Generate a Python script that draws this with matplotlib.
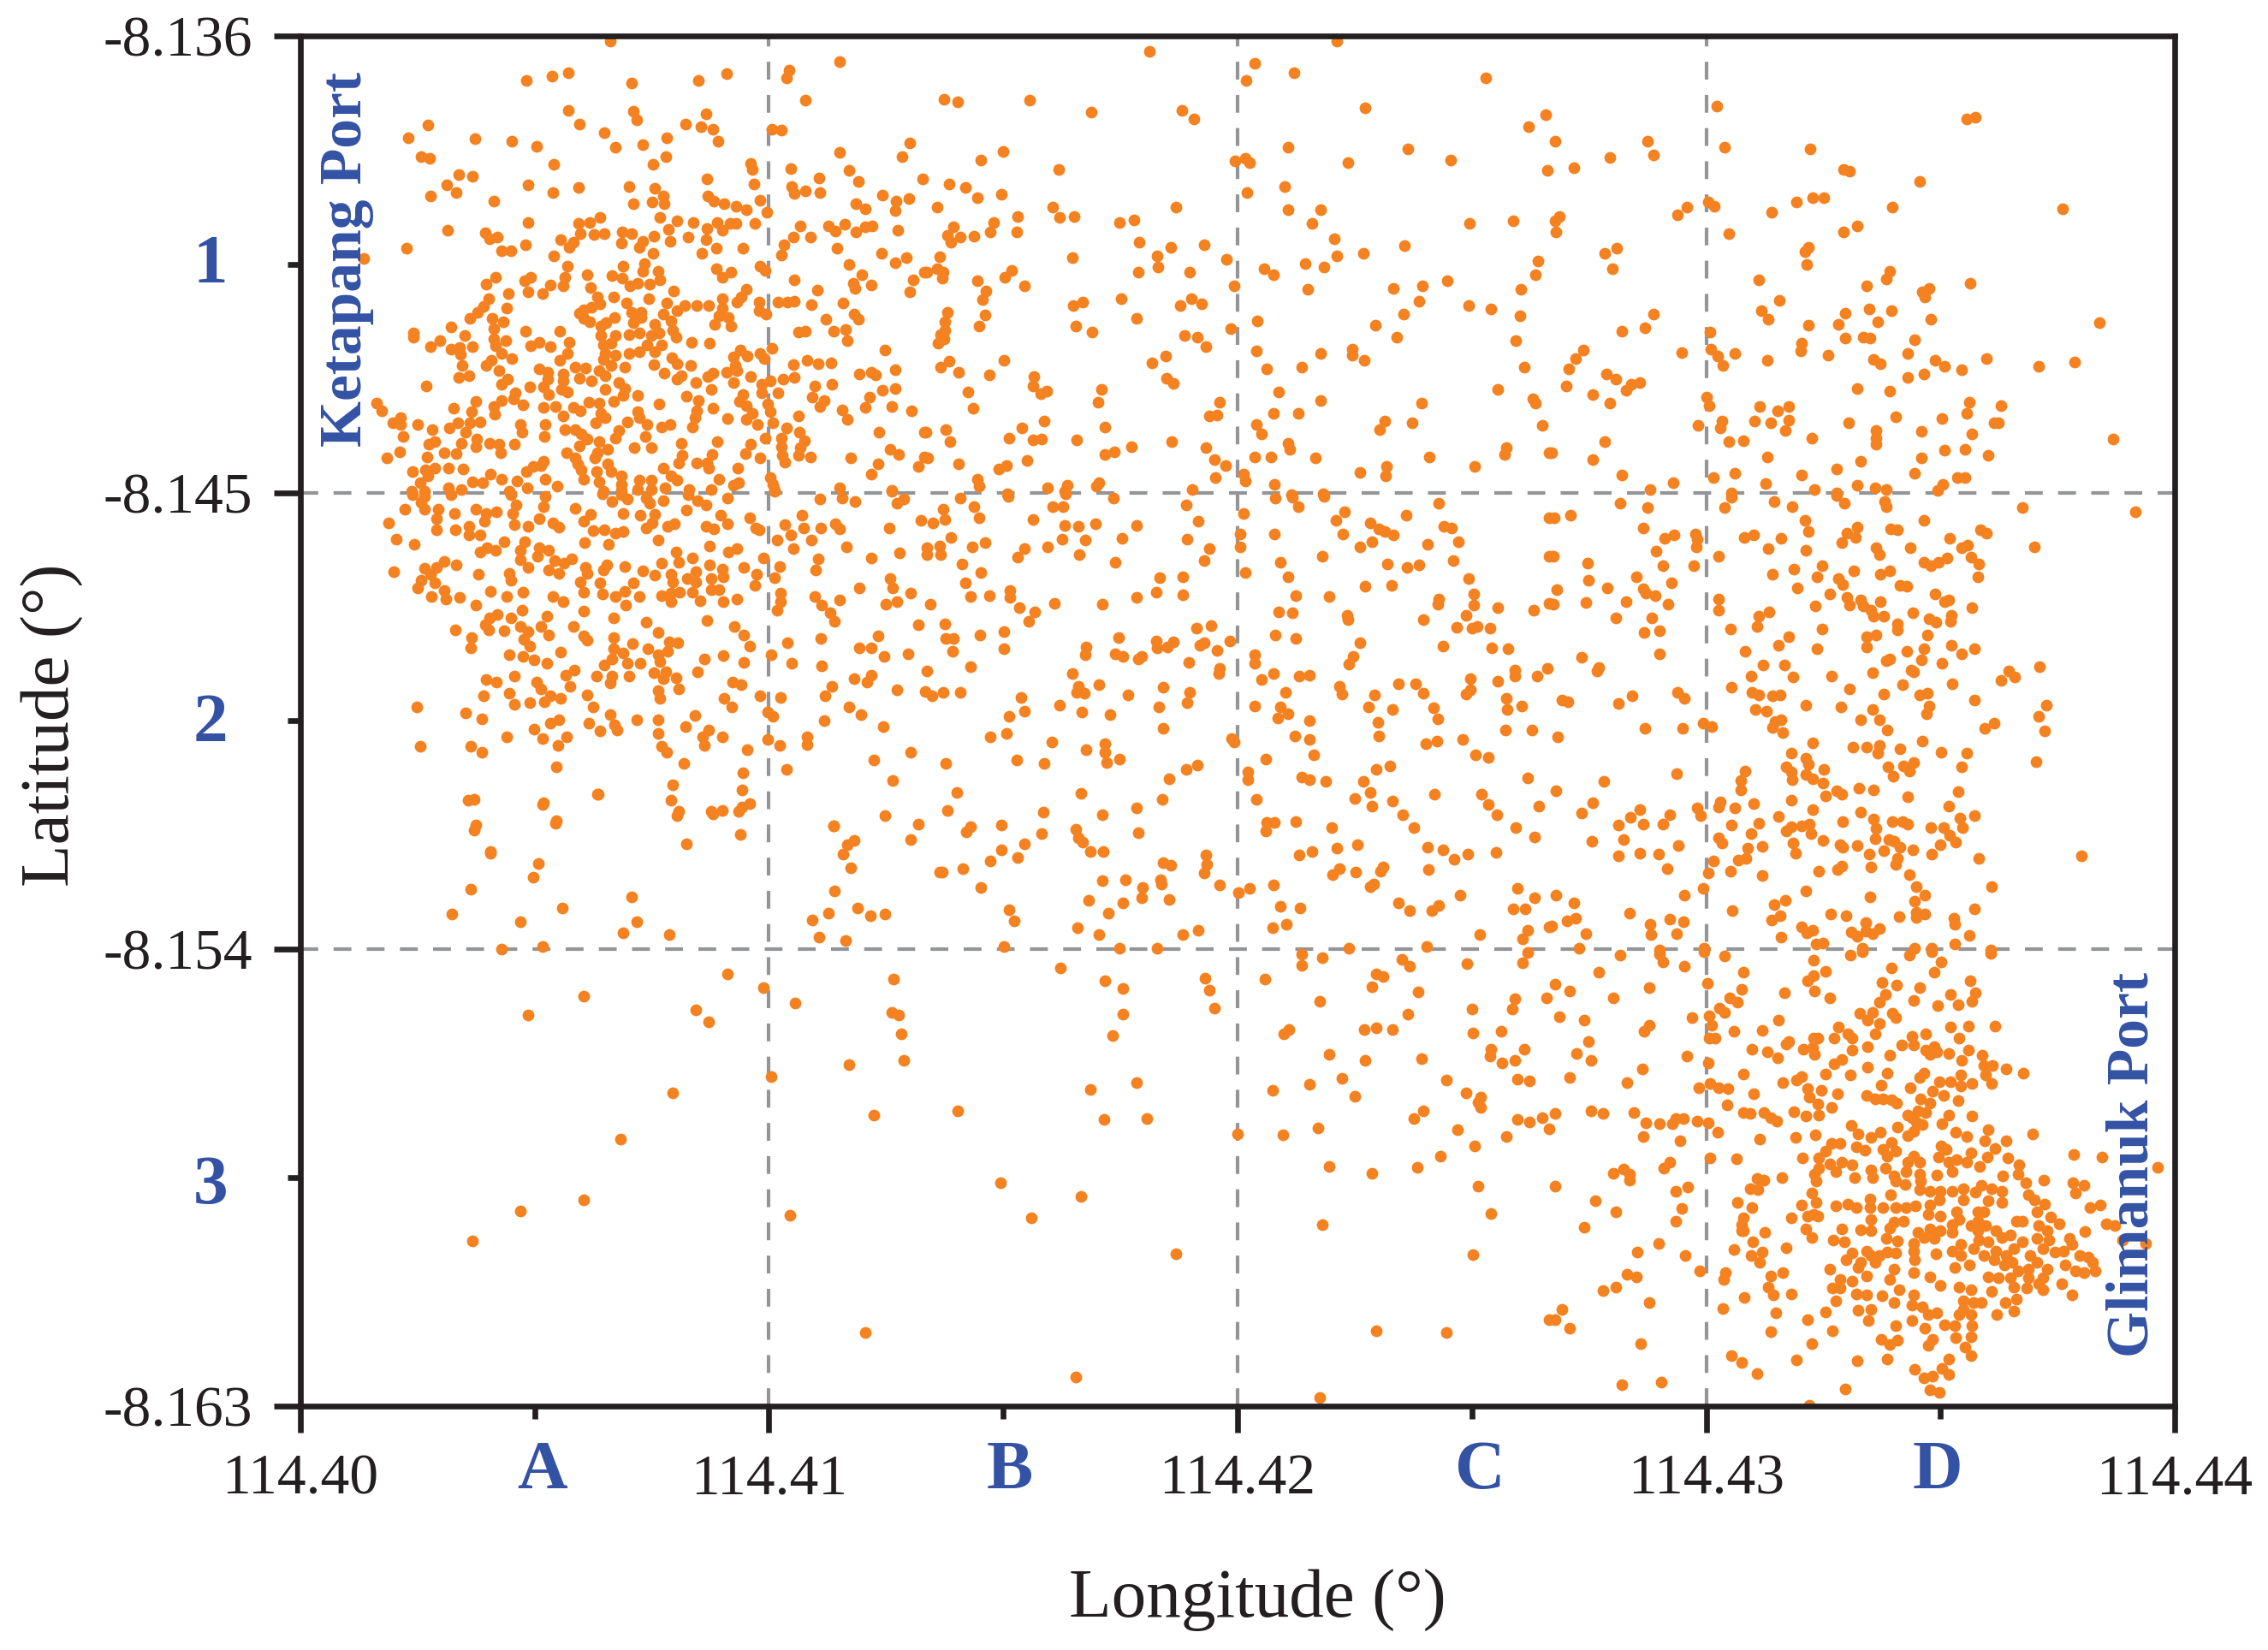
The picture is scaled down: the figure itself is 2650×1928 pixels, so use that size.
import numpy as np
import matplotlib
matplotlib.use("Agg")
import matplotlib.pyplot as plt

# positions are kept as thousandths of a degree: lon = 114.40 + x/1000, lat = -8.136 - y/1000
north_west = [6.62,0.10,11.50,0.50,4.82,0.87,5.37,0.79,5.71,0.73,7.07,0.92,8.50,0.87,9.10,0.75,10.43,0.68,10.37,0.82,
10.77,1.27,5.72,1.46,7.10,1.49,7.17,1.65,8.66,1.53,5.95,1.73,2.73,1.75,8.22,1.73,8.54,1.78,8.80,1.83,
6.49,1.90,10.06,1.84,10.26,1.85,2.31,2.00,3.72,2.03,4.52,2.07,5.04,2.17,7.82,2.01,8.91,2.08,7.30,2.15,
6.73,2.20,13.01,2.10,11.51,2.30,12.84,2.37,2.57,2.37,2.76,2.42,7.80,2.37,7.53,2.53,5.41,2.53,9.60,2.51,
9.65,2.63,10.46,2.61,11.70,2.64,3.37,2.74,3.68,2.76,8.68,2.81,11.07,2.80,11.90,2.87,3.12,2.94,4.85,2.93,
9.68,2.91,7.02,2.97,7.57,3.01,10.48,2.96,5.94,2.99,13.28,2.82,3.33,3.08,5.39,3.09,10.53,3.10,10.77,3.05,
11.09,3.08,8.69,3.15,2.77,3.15,7.74,3.16,4.12,3.26,9.80,3.24,12.42,3.14,12.99,3.21,12.72,3.25,7.10,3.30,
7.50,3.28,7.77,3.31,8.83,3.26,9.05,3.31,9.30,3.35,9.51,3.43,9.96,3.47,11.85,3.30,12.06,3.40,12.69,3.44,
6.40,3.58,7.68,3.57,6.17,3.68,5.94,3.70,4.86,3.67,8.04,3.64,8.38,3.67,9.69,3.69,8.89,3.67,9.17,3.69,
9.30,3.70,8.67,3.79,9.00,3.82,10.66,3.75,11.27,3.75,11.62,3.71,11.41,3.85,11.85,3.86,12.06,3.76,12.20,3.74,
12.75,3.82,3.14,3.82,3.95,3.88,4.04,3.99,4.20,3.97,5.98,3.90,6.26,3.92,6.48,3.90,6.87,3.86,7.06,3.90,
7.55,3.94,7.86,3.81,8.27,3.96,8.66,4.01,10.52,3.96,10.88,3.96,5.56,4.01,5.83,4.06,5.73,4.17,6.85,4.08,
7.30,4.05,7.23,4.17,7.89,4.04,10.32,4.12,11.45,4.19,4.81,4.11,2.26,4.18,8.87,4.19,9.45,4.18,4.29,4.24,
4.50,4.24,7.53,4.28,8.56,4.29,10.27,4.31,12.41,4.29,5.41,4.33,1.36,4.39,12.93,4.37,12.70,4.47,5.69,4.54,
6.89,4.54,7.35,4.49,7.30,4.64,11.70,4.51,9.80,4.54,9.91,4.62,8.87,4.58,9.18,4.65,9.01,4.76,7.64,4.64,
13.32,4.66,4.17,4.76,3.96,4.89,4.91,4.76,4.78,4.83,5.34,4.90,5.65,4.76,5.61,4.93,6.11,4.71,6.65,4.72,
6.87,4.78,7.19,4.87,7.04,4.93,7.46,4.89,7.68,4.80,6.19,4.95,10.54,4.81,11.99,4.71,11.80,4.88,12.19,4.90,
13.08,4.81,11.84,4.97,11.03,5.01,7.96,5.02,9.52,4.99,4.85,5.05,5.16,5.07,4.43,5.07,13.01,5.04,4.02,5.17,
6.69,5.15,6.34,5.14,7.44,5.17,9.01,5.17,9.40,5.14,9.31,5.24,6.39,5.28,6.95,5.27,7.82,5.27,8.21,5.31,
8.46,5.31,8.72,5.31,9.79,5.24,10.20,5.24,10.39,5.24,10.54,5.23,11.58,5.27,10.90,5.30,3.91,5.33,4.41,5.36,
6.21,5.34,6.04,5.40,9.01,5.37,3.78,5.45,5.95,5.47,7.06,5.45,7.27,5.45,7.74,5.48,8.04,5.42,9.79,5.42,
9.93,5.48,11.82,5.48,3.62,5.56,4.10,5.57,6.05,5.57,6.70,5.54,7.27,5.54,8.93,5.51,9.14,5.54,11.90,5.59,
11.22,5.59,4.32,5.64,6.17,5.63,6.52,5.65,7.10,5.65,7.91,5.61,8.84,5.68,9.18,5.71,3.21,5.74,7.57,5.69,
6.42,5.71,2.42,5.86,2.42,5.94,4.13,5.77,4.81,5.81,5.54,5.81,6.42,5.91,6.72,5.91,7.01,5.88,7.23,5.86,
7.48,5.91,7.65,5.86,7.95,5.80,11.38,5.81,11.63,5.79,10.63,5.84,10.77,5.81,8.01,5.94,3.50,5.91,2.98,6.01,
4.12,5.97,4.39,6.01,5.10,6.03,8.34,6.04,8.73,6.06,11.68,6.01,5.73,6.04,2.78,6.13,3.21,6.17,3.40,6.14,
3.67,6.13,4.17,6.11,4.92,6.10,5.34,6.13,6.46,6.08,6.63,6.06,7.40,6.08,7.70,6.08,10.06,6.15,12.47,6.19,
3.41,6.27,4.29,6.26,5.70,6.26,6.51,6.26,6.72,6.29,7.01,6.25,7.23,6.23,7.57,6.23,9.38,6.19,9.54,6.30,
9.25,6.33,9.81,6.26,9.90,6.36,7.93,6.34,4.51,6.35,4.08,6.39,5.54,6.39,6.46,6.37,10.82,6.40,8.04,6.46,
11.05,6.46,11.33,6.45,3.97,6.50,3.46,6.50,6.63,6.49,6.92,6.53,7.55,6.47,8.32,6.50,10.52,6.47,9.27,6.49,
5.10,6.56,5.87,6.52,6.08,6.54,4.23,6.60,5.27,6.63,5.61,6.66,6.38,6.60,7.76,6.64,8.81,6.64,9.10,6.63,
9.31,6.60,12.18,6.63,12.69,6.57,11.92,6.66,12.28,6.68,6.51,6.69,3.59,6.69,3.37,6.73,5.95,6.75,8.12,6.69,
9.61,6.71,10.54,6.73,10.31,6.77,10.03,6.79,8.70,6.72,8.04,6.77,6.21,6.80,5.61,6.80,5.27,6.77,4.42,6.77,
9.24,6.83,4.29,6.87,2.68,6.89,4.89,6.91,6.80,6.83,8.44,6.83,11.34,6.86,9.85,6.86,10.97,6.89,5.19,6.92,
6.93,6.95,5.57,6.97,6.51,6.97,8.76,6.97,9.85,7.03,12.42,6.98,12.69,6.94,5.70,7.01,4.59,7.03,7.19,7.09,
6.89,7.09,9.44,7.07,10.20,7.04,5.29,7.07,8.23,7.10,12.14,7.12,10.93,7.11,4.55,7.15,3.75,7.20,4.29,7.18,
6.16,7.22,6.38,7.23,6.68,7.20,8.50,7.18,1.63,7.24,7.65,7.26,11.18,7.18,9.37,7.20,9.97,7.26,4.74,7.27,
4.12,7.30,5.19,7.32,5.44,7.30,5.82,7.32,9.52,7.29,3.27,7.34,5.97,7.38,3.66,7.41,1.74,7.38,8.80,7.34,
11.08,7.30,12.05,7.32,12.62,7.31,11.56,7.37,13.04,7.39,7.19,7.41,6.42,7.43,8.46,7.38,10.03,7.41,9.65,7.43,
4.14,7.46,5.61,7.49,8.42,7.52,10.63,7.49,9.51,7.55,9.12,7.54,2.14,7.52,7.23,7.52,6.51,7.52,11.68,7.55,
1.97,7.62,2.14,7.66,3.84,7.61,3.61,7.62,3.36,7.63,2.51,7.65,4.70,7.65,5.22,7.65,6.31,7.62,6.97,7.61,
7.40,7.66,7.89,7.65,9.76,7.65,10.09,7.63,7.70,7.70,8.36,7.71,10.37,7.72,3.17,7.73,2.82,7.75,5.65,7.75,
5.87,7.75,6.80,7.78,10.64,7.81,12.34,7.81,13.32,7.81,3.52,7.81,4.73,7.81,5.99,7.84,2.19,7.90,5.21,7.89,
6.72,7.92,7.36,7.89,9.92,7.92,10.26,7.92,6.12,7.95,10.76,7.98,8.89,8.00,8.12,8.02,6.38,7.99,2.87,7.99,
3.44,8.02,3.76,7.95,2.74,8.04,4.04,8.03,4.23,8.04,4.57,8.04,3.74,8.09,9.61,8.04,5.95,8.07,10.27,8.09,
12.59,8.15,10.67,8.12,7.13,8.11,7.48,8.11,6.55,8.14,2.11,8.19,3.06,8.21,3.33,8.23,4.27,8.21,5.68,8.21,
6.34,8.21,9.50,8.23,12.77,8.25,8.78,8.25,8.15,8.27,5.87,8.32,10.63,8.27,10.88,8.29,11.74,8.32,9.80,8.32,
1.84,8.32,2.70,8.30,6.29,8.32,10.29,8.27,8.46,8.41,8.67,8.41,13.31,8.30,5.19,8.39,10.33,8.40,8.08,8.41,
12.33,8.43,5.91,8.44,6.55,8.43,8.72,8.52,3.16,8.52,3.47,8.54,2.87,8.52,2.40,8.58,2.66,8.55,4.97,8.48,
5.14,8.47,4.82,8.58,5.99,8.55,6.32,8.58,9.34,8.52,13.18,8.48,7.74,8.52,6.63,8.58,12.19,8.64,6.85,8.67,
4.06,8.64,7.91,8.67,2.72,8.67,10.03,8.70,5.23,8.73,4.29,8.74,4.63,8.77,6.04,8.73,6.38,8.78,7.23,8.75,
7.48,8.75,8.93,8.74,8.04,8.75,2.55,8.81,3.67,8.79,3.89,8.81,9.35,8.81,10.08,8.84,6.85,8.84,5.48,8.87,
11.51,8.90,9.24,8.86,3.16,8.90,3.44,8.93,4.84,8.91,7.19,8.93,7.48,8.93,8.29,8.93,8.76,8.93,7.78,8.90,
6.46,8.97,6.85,8.95,12.63,8.95,2.38,8.97,2.64,8.98,4.46,8.97,10.12,8.95]

north_mid = [18.12,0.30,22.12,0.10,20.37,0.54,21.20,0.72,20.18,0.88,25.29,0.82,13.74,1.25,14.02,1.30,15.56,1.27,16.87,1.50,
18.82,1.47,19.07,1.64,22.73,1.41,26.21,1.79,26.57,1.55,21.07,2.20,23.64,2.22,15.00,2.27,14.52,2.44,19.95,2.47,
20.16,2.41,20.26,2.50,22.36,2.49,24.55,2.45,26.61,2.64,16.18,2.63,13.84,2.91,14.20,2.98,21.00,2.96,20.20,3.09,
14.44,3.19,14.95,3.12,18.69,3.37,13.59,3.37,16.05,3.38,21.08,3.43,21.77,3.43,15.30,3.56,16.20,3.58,16.52,3.56,
17.79,3.62,17.48,3.67,21.58,3.69,24.95,3.70,25.89,3.64,14.79,3.67,13.93,3.76,14.72,3.86,15.29,3.87,13.81,3.93,
14.08,3.96,14.38,3.94,13.88,4.06,17.90,4.06,19.28,4.11,18.58,4.16,22.06,3.99,23.56,4.13,18.28,4.33,13.65,4.35,
16.47,4.37,22.68,4.28,22.11,4.33,19.77,4.41,26.42,4.43,21.45,4.49,21.85,4.55,18.31,4.56,20.56,4.58,15.18,4.62,
18.98,4.65,17.88,4.65,20.77,4.71,13.59,4.59,13.37,4.66,13.71,4.65,13.69,4.78,15.03,4.75,14.45,4.82,26.35,4.71,
15.45,4.92,19.93,4.92,23.95,4.92,24.48,4.83,21.50,4.99,23.32,4.97,26.05,4.99,14.63,5.02,14.56,5.20,17.51,5.17,
16.69,5.24,16.50,5.31,19.02,5.17,23.87,5.23,18.77,5.31,19.24,5.28,24.93,5.31,25.40,5.38,13.80,5.45,14.62,5.49,
23.54,5.48,26.03,5.52,13.76,5.63,17.85,5.56,20.42,5.61,14.49,5.72,16.54,5.71,22.94,5.70,19.86,5.76,13.76,5.80,
13.67,5.88,16.90,5.84,18.86,5.91,19.15,5.93,23.39,5.93,13.74,5.97,13.61,6.06,19.32,6.13,25.93,6.01,20.41,6.20,
21.78,6.25,22.45,6.18,22.45,6.29,18.47,6.30,13.84,6.41,15.01,6.40,22.71,6.40,18.18,6.45,13.67,6.53,20.63,6.56,
21.37,6.52,26.12,6.53,14.04,6.62,14.70,6.68,15.66,6.72,18.48,6.75,18.63,6.84,15.64,6.90,25.55,6.96,17.09,6.97,
15.92,7.00,15.80,7.05,14.24,7.01,20.87,7.01,26.31,7.15,17.02,7.21,19.61,7.21,21.78,7.18,23.92,7.23,26.35,7.24,
14.35,7.34,20.77,7.43,21.29,7.43,19.56,7.47,19.40,7.49,15.88,7.59,23.15,7.59,23.72,7.62,26.51,7.67,15.40,7.72,
20.40,7.65,17.17,7.70,23.04,7.75,13.77,7.76,13.36,7.81,20.52,7.85,13.87,7.99,15.13,7.93,15.64,7.96,15.81,7.95,
16.57,7.96,18.59,8.00,21.07,8.03,21.12,8.14,17.74,8.10,19.33,8.11,25.74,8.11,17.37,8.19,17.17,8.25,25.70,8.24,
13.38,8.31,15.50,8.36,19.50,8.34,20.36,8.30,20.71,8.30,21.66,8.31,24.10,8.30,26.65,8.21,14.05,8.43,19.75,8.47,
23.17,8.48,25.06,8.48,15.07,8.47,14.91,8.54,20.13,8.64,22.62,8.60,23.16,8.66,19.52,8.71,14.45,8.74,14.48,8.87,
20.16,8.77,20.79,8.83,17.04,8.80,16.37,8.85,16.99,8.87,15.94,8.90,19.04,8.93,16.31,8.97,15.08,9.02,21.15,9.04,21.83,9.02]

north_east = [30.22,1.38,35.56,1.64,35.74,1.61,26.78,2.08,28.74,2.07,30.39,2.20,32.22,2.23,28.87,2.35,27.94,2.39,27.18,2.59,
32.93,2.63,33.06,2.66,34.56,2.86,32.51,3.18,32.27,3.18,30.04,3.28,30.17,3.36,31.93,3.28,29.59,3.37,33.98,3.37,
37.61,3.40,31.40,3.47,29.38,3.53,26.86,3.56,26.77,3.65,26.80,3.86,33.23,3.74,32.94,3.86,30.49,3.90,32.18,4.17,
32.11,4.25,28.10,4.18,27.84,4.28,32.15,4.50,28.00,4.58,33.92,4.63,33.84,4.79,31.13,4.80,33.42,4.92,35.64,4.88,
34.76,4.97,34.62,5.05,34.66,5.15,31.57,5.21,33.48,5.38,33.95,5.41,32.97,5.47,31.17,5.42,28.88,5.48,31.32,5.59,
33.67,5.63,34.80,5.59,32.18,5.70,32.83,5.68,38.40,5.65,28.69,5.75,28.21,5.81,30.08,5.83,34.45,5.98,32.97,5.96,
33.36,5.93,33.49,5.96,32.03,6.06,32.01,6.20,27.37,6.19,29.48,6.24,30.10,6.18,30.62,6.25,30.25,6.30,32.61,6.29,
34.31,6.25,27.21,6.36,31.30,6.40,33.57,6.38,33.71,6.46,34.88,6.40,35.09,6.51,35.98,6.35,37.10,6.51,37.86,6.42,
30.36,6.49,27.06,6.56,35.45,6.57,27.88,6.66,34.65,6.66,28.08,6.77,34.30,6.73,28.59,6.83,28.41,6.87,27.02,6.89,
33.23,6.95,28.30,6.99,33.92,7.00,27.58,7.06,30.01,7.11,27.95,7.23,30.06,7.28,35.61,7.21,31.15,7.30,31.76,7.30,
36.29,7.29,31.53,7.38,35.57,7.44,34.05,7.50,35.03,7.53,30.34,7.59,31.76,7.57,31.03,7.59,31.38,7.62,33.05,7.62,
36.24,7.62,36.15,7.63,29.83,7.68,30.30,7.73,31.69,7.78,33.63,7.77,34.60,7.79,35.68,7.84,32.26,7.93,33.63,7.92,
33.63,8.04,38.68,7.95,27.83,7.99,30.48,7.99,30.79,7.97,35.09,8.16,35.52,8.15,31.30,8.30,34.60,8.31,36.02,8.27,
27.58,8.34,33.30,8.38,26.71,8.21,32.79,8.54,28.20,8.65,30.61,8.61,32.04,8.65,34.44,8.62,35.36,8.70,35.52,8.70,
30.16,8.70,29.30,8.80,31.27,8.82,35.05,8.84,33.23,8.86,33.60,8.90,33.84,8.93,28.80,8.93,32.31,8.94,34.94,8.96,
32.78,9.00,30.54,9.01]

central_west = [2.39,9.04,2.65,9.07,2.57,9.19,3.21,9.04,4.49,9.04,5.22,9.07,6.44,9.02,6.65,9.18,6.85,9.04,6.97,9.13,
7.38,9.10,7.75,9.15,7.46,9.21,8.28,9.04,8.48,9.15,8.24,9.35,8.65,9.24,9.12,9.11,10.12,8.98,11.08,9.13,
11.56,9.10,11.84,9.18,12.62,8.98,12.73,9.21,2.23,9.32,2.65,9.32,2.94,9.32,2.90,9.51,3.28,9.41,3.75,9.32,
3.96,9.41,4.19,9.38,3.92,9.57,4.61,9.24,4.53,9.41,4.57,9.63,4.85,9.66,5.10,9.51,5.18,9.27,5.86,9.31,
6.20,9.43,6.04,9.57,6.24,9.74,6.49,9.73,6.73,9.80,6.89,9.77,6.88,9.41,7.26,9.45,7.57,9.43,7.50,9.60,
7.37,9.70,7.83,9.66,7.99,9.62,8.96,9.45,9.11,9.62,8.66,9.67,8.83,9.72,9.59,9.49,9.72,9.69,9.79,9.73,
10.34,9.63,10.47,9.84,10.17,9.93,10.70,9.45,10.74,9.69,11.11,9.69,10.91,9.93,11.42,9.62,11.50,9.72,10.52,10.11,
11.65,10.07,12.57,9.70,1.88,9.60,2.90,9.73,3.30,9.73,3.59,9.66,3.83,9.83,2.04,9.91,2.43,10.01,3.59,9.83,
4.34,9.96,5.38,9.59,5.51,9.68,6.06,9.99,6.58,10.01,7.63,9.94,8.73,10.05,4.79,9.97,4.69,10.14,5.10,10.08,
5.06,10.25,5.30,10.14,3.83,10.17,3.99,10.08,4.16,10.13,9.32,10.11,9.14,10.17,8.02,10.17,8.36,10.28,8.08,10.37,
5.42,10.33,5.79,10.31,4.69,10.32,4.85,10.47,5.63,10.39,7.71,10.39,9.89,10.29,11.05,10.31,12.18,10.28,2.00,10.56,
2.64,10.49,3.06,10.35,3.32,10.43,2.90,10.47,2.77,10.61,3.80,10.60,4.45,10.59,5.30,10.53,5.51,10.59,6.09,10.47,
6.12,10.59,6.53,10.42,6.47,10.53,6.92,10.45,7.31,10.54,7.57,10.62,7.91,10.61,8.44,10.56,8.73,10.43,9.01,10.50,
9.02,10.66,9.46,10.47,9.73,10.60,10.22,10.46,10.12,10.68,11.00,10.53,12.59,10.69,2.57,10.73,2.50,10.87,2.86,10.78,
5.97,10.76,4.49,10.73,6.40,10.78,7.10,10.78,7.95,10.76,8.26,10.70,8.44,10.76,8.77,10.70,9.69,10.82,11.93,10.87,
12.64,10.87,2.79,11.04,3.06,10.92,3.10,11.09,3.39,11.06,4.06,10.95,4.41,11.05,4.74,10.97,5.38,11.05,6.04,10.97,
6.44,10.99,6.73,11.04,6.93,10.95,7.24,11.04,7.71,11.03,7.91,10.98,8.09,10.97,8.36,10.97,8.77,10.91,8.93,10.91,
10.24,10.98,10.97,11.05,11.51,11.12,12.50,11.19,3.74,11.22,5.60,11.14,6.94,11.21,7.91,11.15,8.53,11.13,9.03,11.14,
9.32,11.09,10.24,11.15,11.13,11.22,12.73,11.15,10.17,11.32,11.31,11.37,11.40,11.54,4.73,11.32,4.20,11.40,4.04,11.47,
4.49,11.47,5.26,11.43,6.04,11.33,6.68,11.46,8.67,11.51,3.94,11.60,7.38,11.56,9.26,11.64,4.69,11.63,5.14,11.63,
3.30,11.70,4.01,11.71,4.34,11.72,5.82,11.64,7.63,11.76,4.85,11.74,5.29,11.81,6.04,11.82,9.46,11.80,12.33,11.83,
3.65,11.86,4.77,11.89,6.69,11.86,7.87,11.94,8.06,11.95,11.10,11.87,6.12,11.91,7.08,11.98,4.90,12.02,3.64,12.06,
9.59,12.03,10.39,11.96,11.93,12.05,12.18,12.05,7.42,12.08,6.69,12.08,4.45,12.19,4.75,12.22,5.56,12.15,6.89,12.16,
7.63,12.19,7.83,12.13,9.03,12.21,10.04,12.19,12.45,12.22,4.98,12.30,8.63,12.27,9.47,12.35,10.48,12.36,5.26,12.37,
6.49,12.40,6.65,12.27,7.67,12.33,6.97,12.36,7.26,12.36,11.12,12.42,7.79,12.53,7.55,12.55,5.85,12.50,8.48,12.53,
5.67,12.60,6.32,12.62,7.02,12.61,8.02,12.64,4.56,12.62,6.65,12.61,6.61,12.75,11.81,12.67,12.18,12.60,12.10,12.74,
3.96,12.69,4.19,12.74,5.04,12.74,5.75,12.81,7.75,12.67,9.22,12.74,9.40,12.79,11.35,12.82,8.07,12.86,5.14,12.86,
7.63,12.90,12.73,12.88,4.45,12.95,3.90,13.00,6.12,12.99,5.34,13.00,5.55,13.06,9.81,13.00,10.24,13.03,11.19,13.00,
9.05,13.05,7.68,13.06,5.21,13.12,4.56,13.17,4.89,13.14,6.25,13.22,2.49,13.22,11.71,13.23,9.20,13.23,3.52,13.34,
9.98,13.33,10.08,13.40,11.97,13.37,6.61,13.37,8.42,13.39,3.88,13.45,7.17,13.48,7.63,13.47,5.51,13.47,11.18,13.49,
5.33,13.55,12.44,13.61,6.15,13.55,6.71,13.57,8.22,13.61,4.99,13.66,6.39,13.69,6.75,13.68,7.64,13.75,8.72,13.68,
8.58,13.82,9.01,13.82,10.82,13.82,10.82,13.96,5.68,13.81,5.17,13.84,4.41,13.81,9.98,13.86,2.56,14.00,3.64,14.00,
5.49,13.98,8.63,13.98,10.22,13.98,7.71,14.00,3.88,14.11,7.81,14.11,9.53,14.06,12.23,14.26,5.46,14.41,8.19,14.33,
10.37,14.45,9.44,14.52,12.64,14.68,7.94,14.75,9.42,14.85,6.36,14.94,3.70,15.05,9.59,15.12,5.17,15.14,8.08,15.28,
9.01,15.26,9.36,15.28,8.81,15.33,5.46,15.46,12.48,15.37,3.74,15.55,11.38,15.57,9.38,15.74,11.81,15.86,8.23,15.92,
4.06,16.07,11.58,16.12,12.88,9.12,13.25,9.55,12.79,10.18,13.03,10.98,13.19,11.60,12.97,12.18,13.34,12.92,13.03,14.11,
13.19,15.54,13.03,15.83,13.65,16.48]

central_mid = [14.08,9.11,15.10,9.07,16.32,9.02,17.35,9.10,14.37,9.28,13.72,9.33,16.05,9.28,16.28,9.28,18.90,9.24,20.81,9.11,
21.17,9.09,21.29,9.28,21.85,9.07,24.30,9.20,22.28,9.37,13.76,9.53,14.49,9.50,15.63,9.53,20.13,9.41,19.16,9.57,
23.60,9.44,22.10,9.55,13.50,9.60,22.83,9.60,26.64,9.49,16.31,9.65,16.60,9.67,16.96,9.62,17.85,9.64,24.41,9.67,
24.57,9.69,23.01,9.72,23.15,9.76,23.32,9.84,13.88,9.89,20.06,9.82,20.79,9.82,22.24,9.82,16.26,9.91,16.74,9.94,
17.53,9.90,18.92,9.91,22.87,9.96,24.72,9.96,14.61,9.99,14.33,10.06,13.64,10.05,15.46,10.11,15.94,10.06,20.05,10.07,
19.40,10.10,22.61,10.07,24.05,10.02,13.37,10.09,13.66,10.22,13.37,10.22,15.31,10.27,16.62,10.22,21.80,10.25,26.64,10.26,
17.39,10.38,19.28,10.34,20.92,10.38,24.61,10.33,14.12,10.41,23.19,10.41,23.88,10.42,23.61,10.48,14.52,10.58,20.16,10.57,
18.33,10.68,18.84,10.65,21.07,10.65,24.93,10.70,14.20,10.77,22.72,10.85,23.29,10.82,15.15,10.92,15.15,11.07,14.31,11.04,
14.70,11.03,18.26,10.97,18.84,11.01,21.24,11.03,21.95,11.04,25.04,10.99,17.85,11.07,24.30,11.10,24.27,11.19,13.45,11.19,
16.09,11.18,17.11,11.19,25.04,11.21,15.35,11.27,25.55,11.26,26.32,11.32,26.64,11.18,15.68,11.35,20.87,11.35,21.17,11.37,
24.88,11.41,22.34,11.41,22.36,11.50,23.96,11.50,13.75,11.58,15.55,11.53,19.43,11.62,25.12,11.64,24.68,11.66,25.00,11.67,
25.39,11.67,19.13,11.67,15.01,11.73,14.50,11.80,20.81,11.81,21.24,11.88,13.78,11.87,13.94,11.87,17.47,11.85,19.84,11.93,
22.62,11.96,18.26,11.93,18.63,11.94,19.28,11.96,19.20,12.01,16.76,12.04,18.29,12.06,18.50,12.04,24.38,12.03,25.42,12.05,
25.77,12.07,15.01,12.08,13.91,12.12,19.56,12.11,16.74,12.20,17.38,12.17,17.56,12.22,17.96,12.23,17.88,12.28,20.37,12.20,
20.37,12.36,22.47,12.23,22.37,12.38,18.95,12.34,14.31,12.43,26.61,12.46,19.62,12.46,19.59,12.56,13.37,12.52,16.47,12.57,
20.77,12.57,25.92,12.50,25.92,12.61,26.40,12.61,21.32,12.62,21.53,12.60,20.52,12.69,24.97,12.67,25.55,12.71,16.60,12.82,
17.04,12.78,18.41,12.84,23.44,12.77,23.80,12.77,22.18,12.82,16.56,12.93,16.73,12.95,13.71,12.93,14.08,12.93,13.48,13.00,
18.97,12.94,21.02,12.93,22.92,12.98,22.23,12.97,23.97,12.96,24.96,12.89,24.88,12.97,15.37,13.03,17.67,12.98,25.73,13.06,
18.93,13.14,26.06,13.21,16.20,13.18,20.37,13.20,20.91,13.22,22.79,13.23,18.32,13.22,15.46,13.31,16.67,13.32,23.31,13.27,
24.18,13.24,25.75,13.28,21.08,13.35,17.27,13.38,15.12,13.41,20.86,13.44,21.53,13.50,24.28,13.46,23.00,13.53,18.42,13.64,
15.07,13.75,25.72,13.67,26.28,13.68,14.72,13.81,21.22,13.79,23.01,13.79,21.54,13.86,19.88,13.85,16.03,13.92,24.81,13.87,
17.16,13.95,19.92,13.91,24.26,13.89,24.02,13.94,16.76,14.07,17.16,14.11,21.63,14.17,25.07,14.17,25.35,14.22,15.29,14.27,
20.60,14.25,17.48,14.25,17.20,14.31,13.77,14.33,15.88,14.34,19.14,14.37,23.26,14.39,18.90,14.45,22.96,14.45,20.22,14.51,
20.22,14.65,18.53,14.63,21.37,14.61,21.53,14.65,21.88,14.69,26.19,14.62,22.68,14.69,16.65,14.92,14.01,14.91,22.83,14.91,
24.21,14.94,25.20,14.95,18.39,15.04,20.41,15.04,22.51,15.03,23.30,15.08,25.36,15.15,13.80,15.26,22.86,15.17,17.85,15.21,
26.43,15.18,15.86,15.29,17.12,15.34,23.53,15.35,25.54,15.35,14.31,15.58,14.21,15.69,14.95,15.55,20.63,15.50,20.78,15.50,
21.24,15.49,20.60,15.67,22.01,15.60,25.93,15.60,16.54,15.63,15.81,15.72,23.77,15.60,17.88,15.70,16.60,15.80,16.70,15.89,
26.33,15.79,15.46,15.92,22.55,15.93,22.12,16.00,24.05,15.99,24.38,16.04,14.95,16.04,16.85,16.07,17.13,16.07,19.32,16.14,
21.58,16.08,21.31,16.14,24.91,16.12,25.52,16.09,24.62,16.22,15.30,16.19,14.73,16.25,18.41,16.29,18.58,16.35,19.34,16.32,
22.18,16.41,23.11,16.38,23.05,16.46,19.28,16.49,24.08,16.42,14.14,16.41,13.70,16.48,22.02,16.52,22.52,16.48,17.12,16.65,
17.61,16.63,18.35,16.63,18.37,16.72,17.98,16.78,14.52,16.78,19.61,16.73,20.77,16.73,22.90,16.72,22.83,16.77,20.26,16.80,
20.01,16.88,25.98,16.80,24.74,16.93,17.96,16.98,18.53,17.02,16.82,17.03,17.55,17.08,26.33,16.98,23.44,17.09,20.92,17.15,
21.34,17.19,24.30,17.14,15.13,17.22,23.67,17.23,24.15,17.24,25.89,17.21,26.14,17.20,17.25,17.29,15.23,17.44,21.05,17.50,
20.74,17.58,16.59,17.58,26.65,17.55,19.16,17.63,18.84,17.71,17.05,17.71,25.16,17.71,26.20,17.63,26.08,17.80,15.02,17.94,
17.48,17.98,18.29,17.98,22.38,17.98,24.03,17.95]

central_east = [28.16,9.20,28.75,9.29,30.54,9.09,30.39,9.29,31.46,9.17,31.83,9.28,32.78,9.06,32.95,9.20,33.80,9.17,33.84,9.28,
36.75,9.29,39.16,9.37,26.76,9.49,27.11,9.45,32.11,9.55,34.64,9.55,35.85,9.73,35.98,9.79,28.65,9.69,33.23,9.68,
33.94,9.72,34.09,9.73,32.18,9.77,33.00,9.80,29.31,9.84,29.12,9.90,29.77,9.82,29.80,9.92,31.01,9.84,30.81,9.89,
31.60,9.90,33.19,9.89,35.19,9.90,32.90,9.99,29.79,10.07,31.32,10.11,37.00,10.07,33.62,10.08,34.36,10.08,35.45,10.09,
35.58,10.04,28.93,10.15,32.13,10.14,33.70,10.22,35.66,10.27,26.74,10.26,30.26,10.25,35.15,10.28,34.65,10.37,34.96,10.38,
34.79,10.44,35.81,10.40,27.47,10.39,29.08,10.44,29.73,10.44,32.47,10.44,31.87,10.50,31.42,10.60,33.92,10.54,33.71,10.61,
33.15,10.54,32.36,10.65,28.51,10.66,35.79,10.66,32.82,10.69,27.48,10.73,32.92,10.81,29.26,10.77,34.14,10.82,34.29,10.85,
27.89,10.87,26.82,10.91,28.65,10.89,31.95,10.87,28.71,10.98,28.92,11.03,32.64,11.00,34.89,11.00,33.00,11.07,30.26,11.10,
35.17,11.12,35.09,11.15,33.30,11.12,33.71,11.15,28.30,11.14,27.44,11.17,26.74,11.19,33.06,11.21,29.18,11.19,33.35,11.24,
32.32,11.24,35.68,11.26,30.26,11.32,33.51,11.32,31.35,11.35,34.41,11.37,35.23,11.41,33.57,11.44,33.79,11.44,34.75,11.49,
28.84,11.46,31.13,11.44,28.07,11.47,34.90,11.55,35.21,11.53,34.09,11.58,31.09,11.63,30.52,11.69,32.47,11.68,29.01,11.72,
34.09,11.70,28.67,11.76,33.63,11.80,34.72,11.80,33.43,11.84,31.76,11.84,31.55,12.00,35.24,12.00,33.42,12.04,32.36,12.07,
34.65,12.07,35.73,12.08,30.84,12.13,34.28,12.13,35.45,12.17,29.01,12.17,33.91,12.27,33.84,12.31,34.60,12.30,27.34,12.24,
31.21,12.40,31.67,12.39,35.04,12.37,37.11,12.43,27.71,12.44,27.67,12.51,36.45,12.51,34.43,12.53,34.37,12.50,33.56,12.54,
36.58,12.63,36.30,12.70,30.96,12.62,31.85,12.63,32.67,12.62,34.20,12.78,35.25,12.77,30.54,12.83,33.06,12.86,30.98,12.93,
31.13,12.99,31.41,13.00,31.58,12.99,33.79,12.97,34.73,12.95,34.56,12.98,29.38,12.93,29.54,13.06,28.42,13.01,26.93,13.09,
27.05,13.12,28.12,13.15,35.73,13.09,37.26,13.18,32.13,13.18,32.87,13.23,34.75,13.21,33.56,13.28,31.05,13.28,31.28,13.31,
34.71,13.35,37.09,13.41,33.30,13.48,33.70,13.48,31.59,13.48,31.47,13.51,29.94,13.55,36.15,13.55,30.11,13.61,35.94,13.64,
29.50,13.65,28.70,13.64,31.41,13.62,33.86,13.67,37.22,13.70,31.64,13.72,26.83,13.81,32.28,13.93,34.62,13.90,33.70,13.98,
33.43,14.02,33.13,14.02,34.13,14.05,33.66,14.14,31.81,14.13,35.01,14.11,35.57,14.13,32.12,14.24,34.43,14.31,37.04,14.30,
32.18,14.35,34.21,14.38,33.88,14.40,31.71,14.41,35.46,14.40,32.51,14.45,30.84,14.48,34.34,14.49,31.81,14.51,29.37,14.53,
32.13,14.56,32.28,14.63,33.99,14.59,31.83,14.65,30.74,14.67,27.81,14.69,32.49,14.72,33.26,14.83,33.57,14.86,30.74,14.86,
26.79,14.87,32.78,14.88,35.37,14.89,32.55,14.97,32.90,14.95,34.30,15.00,31.81,15.06,27.58,15.11,30.30,15.10,31.01,15.12,
35.17,15.17,30.26,15.19,30.62,15.22,32.28,15.24,28.59,15.24,29.80,15.21,27.35,15.32,33.29,15.30,29.22,15.35,29.88,15.37,
35.73,15.37,31.55,15.38,28.39,15.39,33.57,15.43,35.42,15.42,33.98,15.49,34.19,15.49,32.91,15.49,31.13,15.52,28.65,15.53,
29.07,15.53,34.30,15.53,28.12,15.55,30.54,15.55,32.20,15.54,32.04,15.56,31.81,15.58,34.79,15.60,35.07,15.60,35.47,15.60,
33.63,15.61,31.71,15.66,32.23,15.72,30.96,15.72,35.20,15.75,28.24,15.83,30.26,15.81,27.56,15.87,33.60,15.82,33.90,15.83,
32.49,15.86,30.34,15.91,34.00,15.87,35.33,15.89,31.86,15.91,32.85,15.93,33.22,15.96,31.19,15.97,29.40,15.95,34.14,15.99,
32.92,15.99,34.99,15.93,34.42,16.04,30.89,16.01,33.79,16.05,28.59,16.10,31.91,16.10,33.48,16.12,28.98,16.12,28.12,16.16,
34.81,16.12,35.82,16.21,38.00,16.16,34.09,16.20,30.85,16.20,30.68,16.24,30.16,16.25,34.04,16.32,32.90,16.36,32.81,16.42,
33.52,16.37,29.17,16.41,30.05,16.50,30.52,16.46,32.41,16.46,31.20,16.54,34.34,16.53,36.09,16.77,34.48,16.76,29.93,16.80,
32.13,16.84,29.54,16.93,26.79,16.93,34.66,16.94,33.50,16.97,31.69,17.03,27.18,17.08,34.45,17.05,31.46,17.11,30.56,17.23,
35.72,17.21,28.36,17.29,32.65,17.30,32.99,17.34,34.48,17.27,34.66,17.31,34.11,17.35,31.58,17.34,34.48,17.37,27.21,17.39,
27.03,17.44,31.39,17.42,29.23,17.41,29.52,17.46,35.29,17.38,35.31,17.50,28.80,17.51,33.41,17.47,26.71,17.54,32.04,17.55,
33.70,17.59,32.28,17.62,32.15,17.67,33.09,17.66,33.41,17.64,35.62,17.73,27.43,17.69,28.82,17.70,29.37,17.69,33.22,17.74,
33.56,17.69,31.59,17.76,32.35,17.89,32.50,17.87,35.31,17.90,27.28,17.98,29.01,18.01,29.95,17.98,33.34,17.98,34.45,17.98,
34.81,17.98,36.08,18.01]

south_west = [3.58,15.06,3.71,15.65,3.64,16.82,3.24,17.31,4.05,16.11,4.29,17.99,4.69,17.45,5.16,17.94,5.07,16.31,4.97,16.57,
5.19,15.11,6.33,14.94,5.44,15.51,5.59,17.19,7.07,16.97,7.17,17.45,6.89,17.68,7.88,17.71,7.91,15.06,8.03,15.37,
8.77,15.28,9.42,15.20,9.11,18.48,8.43,19.19,8.71,19.42,6.05,18.93,4.85,19.30,9.88,18.76,10.56,19.05,10.04,20.50,
7.94,20.82,6.83,21.73,4.69,23.15,6.05,22.93,3.68,23.75,10.44,23.24,12.05,25.55,11.71,20.27,12.23,21.27,12.66,18.59,
12.76,19.30,12.88,20.19,12.63,19.25,12.82,19.67,11.27,17.28,10.93,17.42,11.06,17.76,11.64,17.82,11.89,17.19,12.17,17.34,
12.48,17.31,11.37,15.57,11.68,15.94,11.74,16.40,11.40,16.85]

south_mid = [16.22,18.36,21.37,18.10,21.37,18.32,21.80,18.17,23.50,18.19,23.67,18.34,24.90,18.28,26.08,18.26,26.20,18.07,19.30,18.56,
17.17,18.62,20.59,18.59,22.96,18.49,23.11,18.53,17.56,18.77,19.40,18.80,22.86,18.73,23.85,18.84,21.75,19.03,25.92,18.98,
26.60,18.96,19.50,19.15,25.00,19.18,25.86,19.17,17.55,19.28,23.64,19.28,21.09,19.58,20.98,19.66,22.71,19.58,22.96,19.54,
23.30,19.58,25.02,19.64,25.62,19.61,17.33,19.70,25.40,19.97,26.12,19.97,25.39,20.10,21.96,20.07,22.73,20.19,23.92,20.16,
25.92,20.18,25.64,20.24,22.22,20.54,24.46,20.58,25.98,20.56,26.22,20.59,17.85,20.63,21.53,20.66,20.75,20.77,16.85,20.76,
24.88,20.83,25.18,20.91,22.50,20.89,25.13,21.01,25.19,21.11,14.03,21.18,23.96,21.19,23.77,21.34,17.15,21.35,18.06,21.34,
25.98,21.35,26.22,21.40,26.51,21.32,21.71,21.52,24.69,21.55,26.64,21.53,20.00,21.64,20.96,21.65,25.74,21.69,25.06,21.87,
24.33,22.08,21.95,22.28,23.83,22.29,22.87,22.42,25.14,22.67,14.94,22.59,16.65,22.86,25.40,23.21,15.59,23.29,21.80,23.42,
18.69,24.00,25.02,24.02,26.64,25.29,22.96,25.52,24.46,25.55,16.54,26.43,21.75,26.83,
26.78,25.30,26.93,25.10,27.08,25.46,26.78,22.67,27.40,23.47,27.80,24.72,28.08,24.66,28.20,26.58,28.02,22.41,28.23,22.33,
27.80,21.24,27.55,21.19,27.55,20.19,27.24,20.05,27.09,20.53,26.87,19.33,27.40,19.39,27.49,19.82,28.02,18.96,27.71,18.45,
28.17,18.11,27.09,18.82,26.78,18.68,26.78,21.24,27.64,22.95,28.08,23.18]

south_east = [29.01,18.09,29.07,18.24,29.54,18.33,29.95,18.04,30.39,18.13,30.80,18.45,32.29,18.21,32.29,18.51,32.55,18.44,32.16,18.62,
32.31,18.82,33.08,18.12,33.34,18.04,33.95,18.37,34.34,18.12,34.81,18.04,35.02,18.24,34.87,18.45,36.08,18.08,28.78,18.76,
30.02,18.67,30.76,18.78,31.68,18.86,30.50,18.95,30.67,19.04,32.64,18.95,33.76,18.66,34.06,18.71,33.82,18.89,34.56,18.76,
35.64,18.62,35.74,18.86,35.22,18.88,34.43,19.00,35.37,19.09,35.68,19.02,34.94,19.10,33.69,19.04,30.28,19.16,30.06,19.31,
30.39,19.25,29.69,19.34,33.27,19.26,33.56,19.25,33.97,19.26,34.04,19.35,33.45,19.40,31.55,19.40,28.79,19.49,28.68,19.62,
33.69,19.46,30.11,19.49,30.06,19.75,30.19,19.74,30.59,19.62,31.20,19.60,32.83,19.53,33.60,19.67,35.22,19.53,35.60,19.51,
36.16,19.51,35.39,19.75,34.69,19.67,33.03,19.67,34.39,19.71,33.12,19.75,32.73,19.75,31.77,19.82,32.29,19.75,32.38,19.75,
32.27,19.93,31.70,19.87,33.44,19.91,34.43,19.89,34.17,19.89,34.69,19.98,34.87,19.91,35.18,20.05,34.93,20.02,34.78,20.07,
35.60,19.98,30.98,19.96,31.31,20.01,32.07,19.96,33.12,19.98,29.58,20.11,31.52,20.14,32.31,20.07,33.91,20.08,35.89,20.08,
35.46,20.18,30.04,20.24,32.90,20.17,32.73,20.26,35.92,20.29,36.11,20.29,28.64,20.35,33.44,20.33,32.55,20.45,33.08,20.47,
33.86,20.44,30.79,20.46,36.40,20.35,36.77,20.44,34.65,20.44,35.44,20.47,35.96,20.47,34.56,20.53,32.03,20.51,31.92,20.58,
28.31,20.63,31.64,20.63,30.09,20.64,34.98,20.60,35.68,20.65,36.09,20.65,35.44,20.69,35.22,20.60,33.73,20.67,29.84,20.73,
30.26,20.73,30.47,20.75,34.36,20.73,32.16,20.75,32.45,20.78,31.02,20.84,34.83,20.80,35.07,20.87,32.80,20.85,33.43,20.87,
34.58,20.94,32.20,20.91,33.60,20.94,33.78,20.94,33.95,20.96,35.37,20.98,34.07,21.03,30.44,21.06,34.78,21.03,32.38,21.05,
32.68,21.11,28.46,21.22,30.80,21.22,30.94,21.24,31.24,21.22,31.37,21.31,31.50,21.38,31.87,21.20,32.12,21.29,32.40,21.27,
34.30,21.27,34.52,21.18,34.39,21.31,34.69,21.22,35.18,21.27,35.67,21.29,28.72,21.42,29.01,21.43,29.28,21.43,29.36,21.33,
29.52,21.33,29.80,21.38,30.04,21.42,34.48,21.40,34.61,21.45,35.04,21.43,33.09,21.47,34.08,21.51,36.02,21.55,30.25,21.61,
28.66,21.69,31.15,21.73,31.90,21.71,32.32,21.65,34.43,21.58,35.32,21.60,35.57,21.69,33.25,21.64,33.51,21.71,33.71,21.60,
34.30,21.67,36.96,21.64,29.45,21.78,32.86,21.82,32.68,21.82,33.21,21.89,33.95,21.80,35.94,21.78,36.40,21.77,32.55,21.98,
33.38,21.96,33.78,21.94,34.04,21.98,35.02,21.87,35.13,21.94,36.16,21.92,35.66,22.01,30.08,22.11,30.65,22.13,32.05,22.11,
32.40,22.11,33.86,22.07,34.43,22.07,34.96,22.10,36.00,22.10,36.44,22.11,37.84,22.05,38.44,22.09,35.35,22.14,29.23,22.20,
34.30,22.20,34.56,22.20,35.18,22.20,35.57,22.20,32.64,22.22,32.89,22.20,33.12,22.25,35.83,22.27,36.68,22.25,39.63,22.29,
29.10,22.32,32.40,22.32,33.82,22.32,34.26,22.38,33.51,22.34,35.25,22.38,34.00,22.47,32.77,22.38,36.66,22.43,28.36,22.43,
34.56,22.43,32.31,22.43,36.33,22.47,34.93,22.45,33.56,22.49,31.24,22.54,31.08,22.52,31.62,22.50,33.17,22.49,37.20,22.54,
32.34,22.56,34.58,22.56,34.04,22.56,36.82,22.59,37.82,22.60,38.06,22.65,28.37,22.54,34.24,22.63,30.94,22.72,31.11,22.74,
29.60,22.69,29.36,22.76,35.88,22.65,35.26,22.76,35.48,22.72,32.25,22.80,34.56,22.74,35.00,22.76,34.78,22.76,36.09,22.72,
36.31,22.76,37.89,22.80,33.93,22.83,36.88,22.84,35.74,22.78,30.67,22.98,33.50,22.92,34.98,22.93,35.48,22.93,36.01,22.96,
36.31,22.99,37.01,22.93,37.23,23.02,32.03,23.03,32.34,22.99,32.77,23.05,33.03,23.02,33.21,23.09,33.50,23.09,33.78,23.09,
34.04,23.09,34.26,23.09,34.46,23.05,34.78,23.03,38.19,23.08,38.41,23.03,35.35,23.17,30.98,23.09,29.48,23.11,37.06,23.18,
35.79,23.18,35.92,23.18,34.74,23.23,32.29,23.23,32.16,23.25,32.38,23.25,35.00,23.25,31.81,23.29,30.80,23.29,37.36,23.27,
38.54,23.40,38.72,23.45,33.51,23.32,34.00,23.38,34.21,23.36,29.36,23.36,30.76,23.43,36.62,23.36,36.75,23.36,35.39,23.32,
35.79,23.36,37.54,23.40,37.10,23.45,35.96,23.45,35.26,23.43,32.90,23.51,33.30,23.52,33.51,23.54,33.91,23.49,35.66,23.45,
30.80,23.54,31.26,23.58,30.76,23.54,32.12,23.51,38.09,23.56,35.79,23.54,36.18,23.54,37.27,23.54,34.52,23.58,34.78,23.51,
35.00,23.54,35.26,23.58,36.49,23.63,36.31,23.67,32.25,23.67,33.85,23.70,34.08,23.74,32.95,23.76,32.71,23.73,34.65,23.67,
34.87,23.70,37.75,23.70,35.81,23.72,36.01,23.76,37.32,23.73,37.06,23.70,36.75,23.76,34.43,23.79,39.37,23.79,38.89,23.72,
31.00,23.76,28.99,23.79,35.44,23.82,36.57,23.90,37.80,23.82,28.53,23.97,30.60,23.91,31.70,23.88,33.43,23.94,34.43,23.94,
35.70,23.90,36.18,23.94,37.19,23.90,37.45,23.97,37.62,23.94,35.26,23.94,31.20,23.97,33.86,23.97,33.12,23.98,34.04,23.98,
37.97,24.03,35.92,24.03,36.40,24.03,36.92,24.03,35.44,24.03,34.91,24.00,29.56,24.03,30.95,24.03,33.69,24.03,33.51,24.03,
38.15,24.07,31.15,24.16,32.99,24.12,33.30,24.16,33.60,24.16,34.45,24.12,36.14,24.12,36.36,24.21,36.53,24.16,37.06,24.16,
37.27,24.30,37.67,24.21,35.31,24.27,35.61,24.22,38.24,24.16,37.89,24.34,38.06,24.37,38.30,24.34,32.64,24.31,33.25,24.27,
34.00,24.30,36.88,24.30,36.66,24.34,30.41,24.37,29.86,24.34,28.31,24.41,28.51,24.45,31.64,24.37,31.37,24.43,33.43,24.43,
34.43,24.37,34.78,24.45,36.02,24.45,36.23,24.47,36.49,24.47,36.88,24.47,37.19,24.47,33.91,24.50,32.86,24.50,30.37,24.50,
33.12,24.54,37.10,24.59,31.33,24.65,32.69,24.68,32.86,24.68,36.57,24.65,37.58,24.58,35.00,24.63,35.39,24.65,35.66,24.70,
36.84,24.68,37.19,24.70,34.11,24.71,36.09,24.74,37.80,24.81,31.43,24.81,31.81,24.79,33.21,24.79,33.43,24.81,33.75,24.83,
34.43,24.80,30.81,24.85,32.77,24.92,35.48,24.92,35.70,24.96,35.88,24.96,36.62,24.90,28.79,24.96,36.38,24.96,34.01,24.96,
34.39,25.01,30.35,25.08,34.61,25.05,33.25,25.11,33.51,25.10,35.48,25.10,36.57,25.12,31.48,25.17,32.55,25.14,34.74,25.19,
34.93,25.16,35.39,25.19,36.21,25.19,35.66,25.19,33.47,25.32,32.16,25.30,34.39,25.32,35.09,25.39,35.31,25.41,35.68,25.41,
34.04,25.41,34.67,25.47,31.37,25.54,32.70,25.51,28.60,25.77,35.33,25.65,35.66,25.63,33.73,25.68,34.08,25.70,34.83,25.68,
34.74,25.81,33.91,25.79,32.25,25.77,35.53,25.84,35.66,26.01,30.54,26.00,30.76,26.14,31.92,26.09,33.23,26.10,33.86,26.08,
31.08,26.36,35.18,26.08,35.04,26.25,34.45,26.27,35.18,26.37,34.83,26.41,34.65,26.45,29.04,26.52,32.97,26.67,34.78,26.68,
34.97,26.73,32.20,26.98]

zones = [north_west, north_mid, north_east, central_west, central_mid, central_east, south_west, south_mid, south_east]
pts = np.concatenate([np.array(z).reshape(-1, 2) for z in zones])
lon = 114.40 + pts[:, 0] / 1000
lat = -8.136 - pts[:, 1] / 1000

lon_ticks = [114.40, 114.41, 114.42, 114.43, 114.44]
lat_ticks = [-8.136, -8.145, -8.154, -8.163]
lon_labels = ["114.40", "114.41", "114.42", "114.43", "114.44"]
lat_labels = ["-8.136", "-8.145", "-8.154", "-8.163"]
lon_zones = ["A", "B", "C", "D"]
lat_zones = ["1", "2", "3"]

W, H = 2650, 1928
ink = "#231f20"
blue = "#3452a4"
orange = "#f58220"
grey = "#939598"

plt.rcParams["font.family"] = ["Liberation Serif", "DejaVu Serif"]

fig = plt.figure(figsize=(W / 300, H / 300), dpi=300)
ax = fig.add_axes([351 / W, 1 - 1643 / H, (2541 - 351) / W, (1643 - 42) / H])
ax.set_xlim(114.40, 114.44)
ax.set_ylim(-8.163, -8.136)

for v in lon_ticks[1:-1]:
    ax.axvline(v, color=grey, lw=1.0, ls=(0, (5.0, 4.3)), zorder=0.5)
for v in lat_ticks[1:-1]:
    ax.axhline(v, color=grey, lw=1.0, ls=(0, (5.0, 4.3)), zorder=0.5)

ax.scatter(lon, lat, s=11, color=orange, linewidths=0, zorder=1)

for s in ax.spines.values():
    s.set_linewidth(1.6)
    s.set_color(ink)

ax.set_xticks(lon_ticks)
ax.set_xticklabels(lon_labels)
ax.set_yticks(lat_ticks)
ax.set_yticklabels(lat_labels)
ax.set_xticks([114.405, 114.415, 114.425, 114.435], minor=True)
ax.set_yticks([-8.1405, -8.1495, -8.1585], minor=True)
ax.tick_params(which="major", length=7.4, width=1.6, color=ink, labelcolor=ink, labelsize=16.2, pad=6)
ax.tick_params(which="minor", length=3.7, width=1.6, color=ink)

def px_text(x, y, s, **kw):
    fig.text(x / W, 1 - y / H, s, **kw)

# zone letters and numbers
for x, s in zip([634, 1180, 1729, 2264], lon_zones):
    px_text(x, 1739, s, color=blue, fontsize=19.5, fontweight="bold", ha="center", va="baseline")
for y, s in zip([330, 866, 1406], lat_zones):
    px_text(246, y, s, color=blue, fontsize=19.5, fontweight="bold", ha="center", va="baseline")

px_text(422, 522, "Ketapang Port", color=blue, fontsize=16.7, fontweight="bold", rotation=90,
        rotation_mode="anchor", ha="left", va="baseline", zorder=5)
px_text(2510, 1586, "Glimanuk Port", color=blue, fontsize=16.7, fontweight="bold", rotation=90,
        rotation_mode="anchor", ha="left", va="baseline", zorder=5)

px_text(1469, 1890, "Longitude (°)", color=ink, fontsize=19.5, ha="center", va="baseline")
px_text(61, 847, "Latitude (°)", color=ink, fontsize=19.5, rotation=90, ha="center", va="center")

fig.savefig("out.png", dpi=300)
